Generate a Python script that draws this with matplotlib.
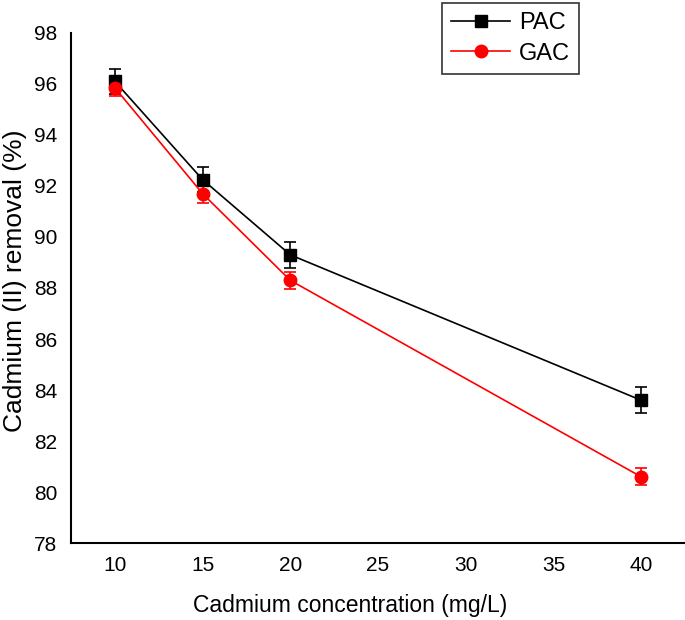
import numpy as np
import matplotlib.pyplot as plt
from matplotlib.lines import Line2D

plt.rcParams['font.family'] = ['Liberation Sans', 'DejaVu Sans']

# data
conc = [10, 15, 20, 40]
pac = [96.1, 92.25, 89.3, 83.6]
pac_err = [0.5, 0.5, 0.5, 0.5]
gac = [95.85, 91.7, 88.3, 80.6]
gac_err = [0.32, 0.35, 0.32, 0.33]

fig = plt.figure(figsize=(6.85, 6.2), dpi=100)
ax = fig.add_axes([0.1036, 0.124, 0.8964, 0.823])

ax.errorbar(conc, pac, yerr=pac_err, color='black', marker='s', markersize=8,
            linewidth=1.2, capsize=4, elinewidth=1.2, capthick=1.2)
ax.errorbar(conc, gac, yerr=gac_err, color='#ff0000', marker='o', markersize=9,
            linewidth=1.2, capsize=4, elinewidth=1.2, capthick=1.2)

ax.set_xlim(7.5, 42.5)
ax.set_ylim(78, 98)
ax.set_xticks(np.arange(10, 41, 5))
ax.set_yticks(np.arange(78, 99, 2))
ax.tick_params(axis='both', length=0, labelsize=15)
ax.tick_params(axis='x', pad=9)
ax.tick_params(axis='y', pad=10)

for s in ['top', 'right']:
    ax.spines[s].set_visible(False)
for s in ['left', 'bottom']:
    ax.spines[s].set_linewidth(1.5)

ax.set_xlabel('Cadmium concentration (mg/L)', fontsize=16.5)
ax.xaxis.set_label_coords(0.454, -0.1)
ax.set_ylabel('Cadmium (II) removal (%)', fontsize=19)
ax.yaxis.set_label_coords(-0.072, 0.515)

handles = [
    Line2D([], [], color='black', marker='s', markersize=8, linewidth=1.2, label='PAC'),
    Line2D([], [], color='#ff0000', marker='o', markersize=9, linewidth=1.2, label='GAC'),
]
leg = ax.legend(handles=handles, loc='upper left', bbox_to_anchor=(442/685, 1 - 3/620),
                bbox_transform=fig.transFigure, fontsize=17, frameon=True,
                fancybox=False, edgecolor='black', handlelength=2.5,
                handletextpad=0.35, borderpad=0.4, labelspacing=0.35,
                borderaxespad=0)
leg.get_frame().set_linewidth(1.2)

plt.savefig('out.png', dpi=100)
